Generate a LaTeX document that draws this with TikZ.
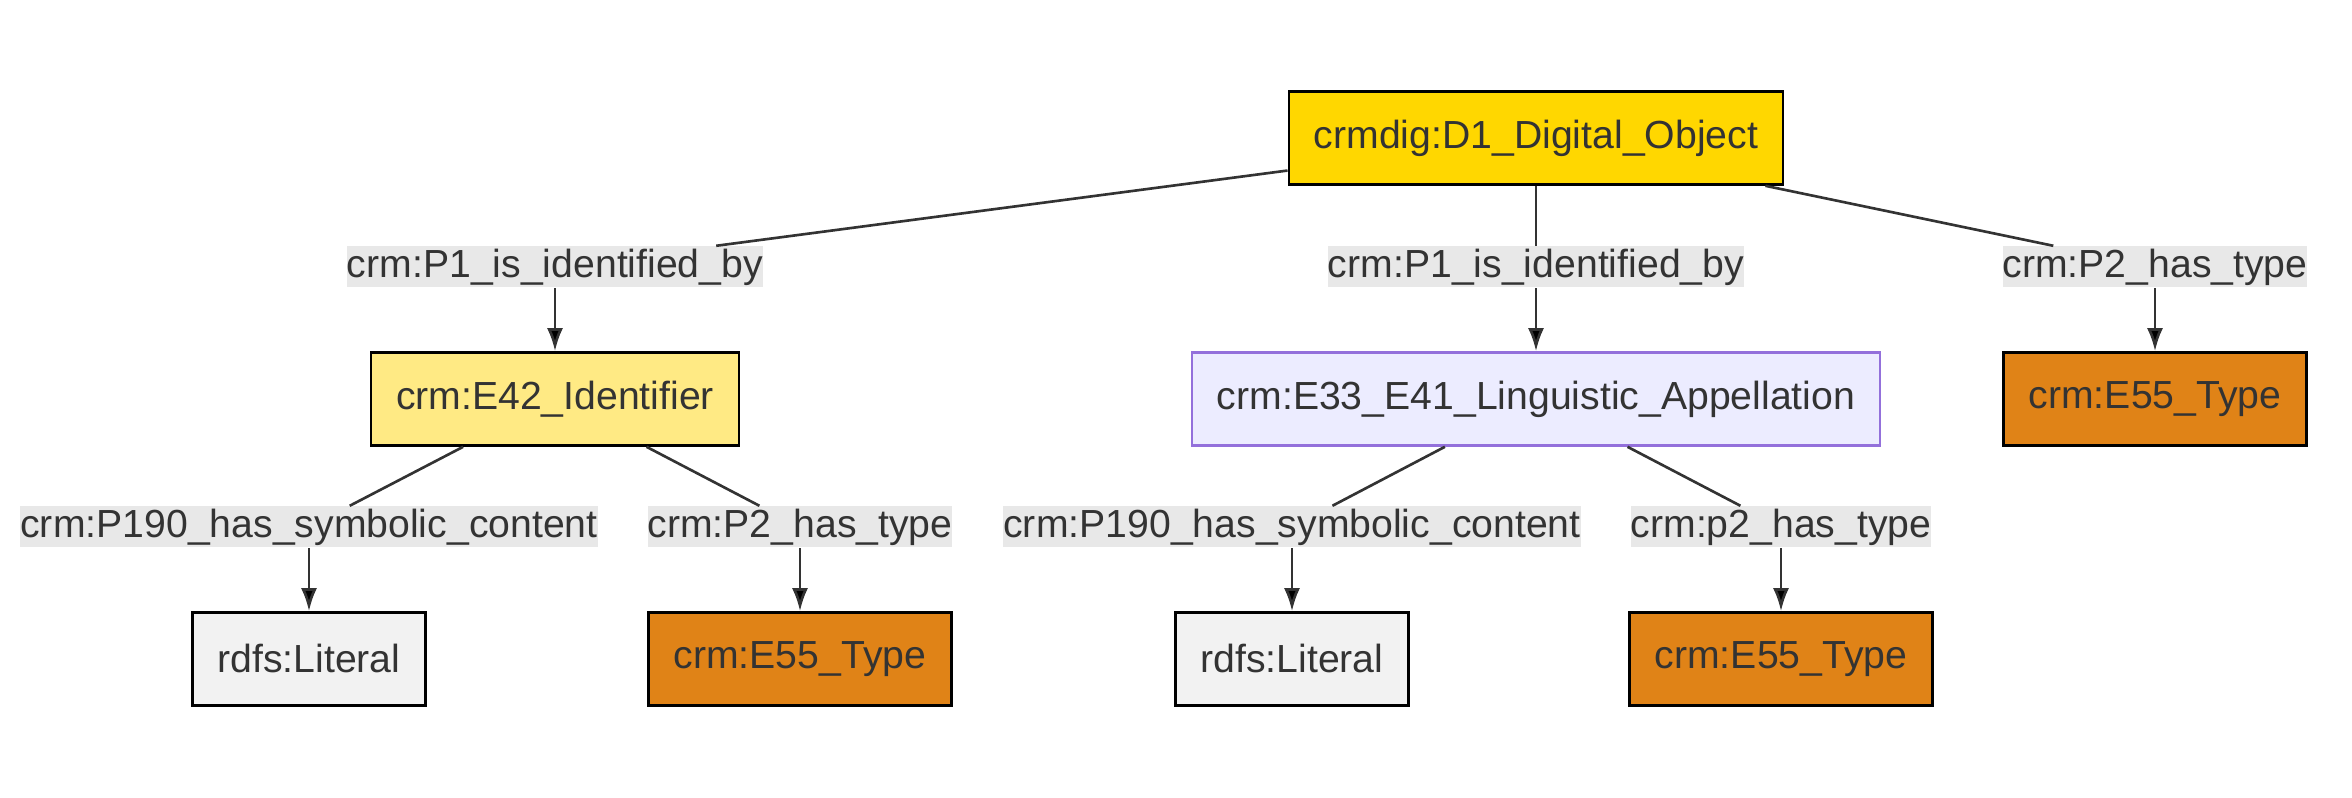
\documentclass[tikz,border=0pt]{standalone}
\usepackage{fontspec}
\setmainfont{Liberation Sans}
\usetikzlibrary{positioning}
\usetikzlibrary{arrows.meta}

\definecolor{txtgray}{HTML}{333333}
\definecolor{lblbg}{HTML}{E8E8E8}
\definecolor{gold}{HTML}{FFD700}
\definecolor{paleyellow}{HTML}{FFEA84}
\definecolor{lavender}{HTML}{ECECFF}
\definecolor{lavenderline}{HTML}{9370DB}
\definecolor{typeorange}{HTML}{E08317}
\definecolor{litgray}{HTML}{F2F2F2}

\begin{document}
\begin{tikzpicture}[
  font=\fontsize{11.15}{13}\selectfont, text=txtgray,
  box/.style={draw=black, rectangle, line width=0.75pt, minimum height=0.93cm, inner xsep=0.25cm},
  lbl/.style={fill=lblbg, rectangle, inner xsep=0pt, inner ysep=0pt, minimum height=0.41cm},
  edgeline/.style={line width=0.75pt, draw=txtgray},
  arr/.style={-{Latex[length=0.23cm,width=0.16cm]}}
]
  \useasboundingbox (0,0) rectangle (23.52,-7.98);

  \node[box, fill=gold] (d1) at (15.36,-1.38) {crmdig:D1\_Digital\_Object};
  \node[lbl] (id1) at (5.55,-2.67) {crm:P1\_is\_identified\_by};
  \node[lbl] (id2) at ([yshift=-1.29cm]d1) {crm:P1\_is\_identified\_by};
  \node[lbl] (tp1) at (21.55,-2.67) {crm:P2\_has\_type};

  \node[box, fill=paleyellow] (e42) at ([yshift=-1.32cm]id1) {crm:E42\_Identifier};
  \node[box, fill=lavender, draw=lavenderline] (e33) at ([yshift=-1.32cm]id2) {crm:E33\_E41\_Linguistic\_Appellation};
  \node[box, fill=typeorange] (type1) at ([yshift=-1.32cm]tp1) {crm:E55\_Type};

  \node[lbl] (sym1) at (3.09,-5.27) {crm:P190\_has\_symbolic\_content};
  \node[lbl] (tp2) at (8.00,-5.27) {crm:P2\_has\_type};
  \node[lbl] (sym2) at (12.92,-5.27) {crm:P190\_has\_symbolic\_content};
  \node[lbl] (tp3) at (17.81,-5.27) {crm:p2\_has\_type};

  \node[box, fill=litgray] (lit1) at ([yshift=-1.32cm]sym1) {rdfs:Literal};
  \node[box, fill=typeorange] (type2) at ([yshift=-1.32cm]tp2) {crm:E55\_Type};
  \node[box, fill=litgray] (lit2) at ([yshift=-1.32cm]sym2) {rdfs:Literal};
  \node[box, fill=typeorange] (type3) at ([yshift=-1.32cm]tp3) {crm:E55\_Type};

  \path[edgeline] (d1) edge (id1);
  \path[edgeline] (d1) edge (id2);
  \path[edgeline] (d1) edge (tp1);
  \path[edgeline, arr] (id1) edge (e42);
  \path[edgeline, arr] (id2) edge (e33);
  \path[edgeline, arr] (tp1) edge (type1);

  \path[edgeline] (e42) edge (sym1);
  \path[edgeline] (e42) edge (tp2);
  \path[edgeline] (e33) edge (sym2);
  \path[edgeline] (e33) edge (tp3);
  \path[edgeline, arr] (sym1) edge (lit1);
  \path[edgeline, arr] (tp2) edge (type2);
  \path[edgeline, arr] (sym2) edge (lit2);
  \path[edgeline, arr] (tp3) edge (type3);
\end{tikzpicture}
\end{document}
